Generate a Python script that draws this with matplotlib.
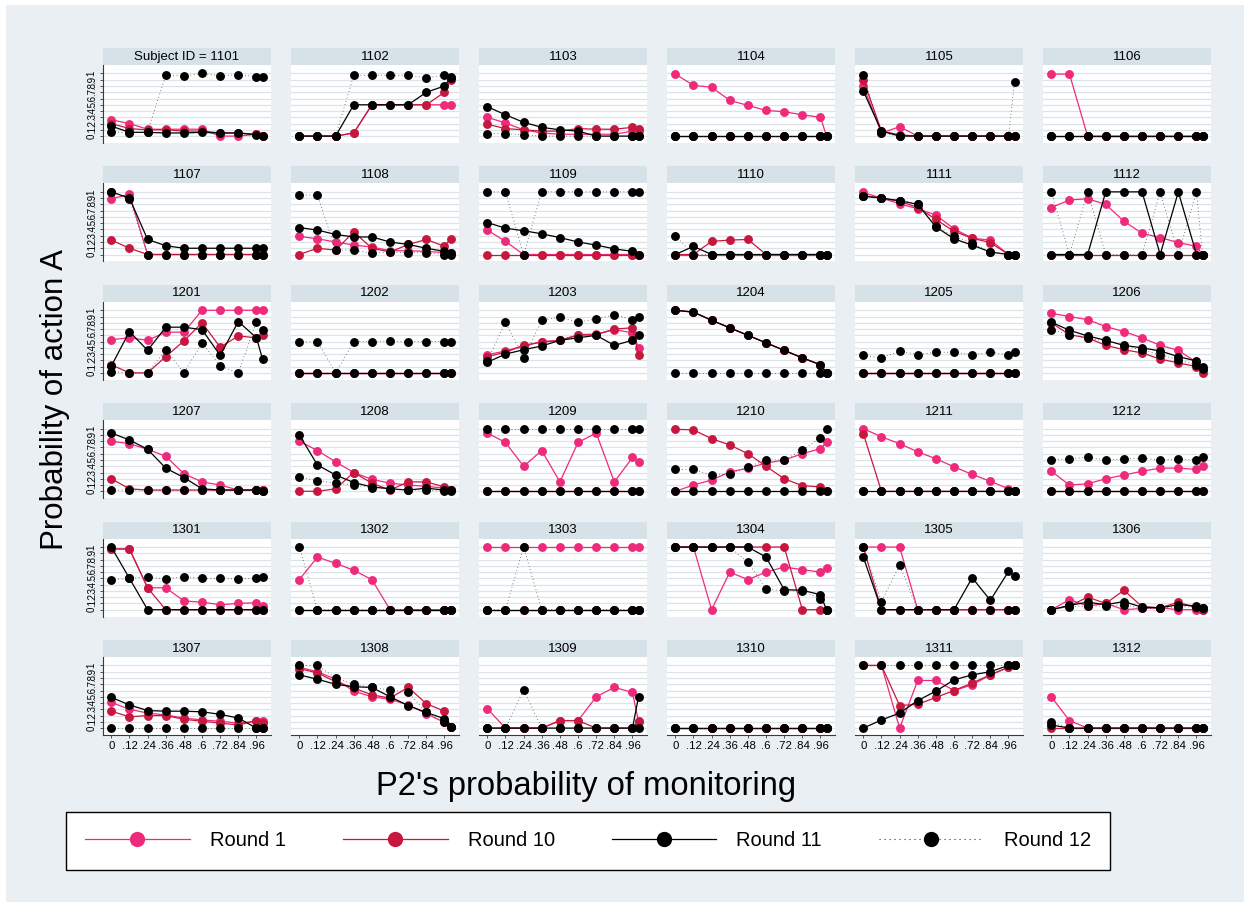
import matplotlib
matplotlib.use("Agg")
import numpy as np
import matplotlib.pyplot as plt
from matplotlib.lines import Line2D
from matplotlib.patches import Rectangle

plt.rcParams['font.family'] = ['Liberation Sans', 'DejaVu Sans']

# monitoring probabilities on the x axis
x = [0, .12, .24, .36, .48, .6, .72, .84, .96, 1.0]
xticks = [0, .12, .24, .36, .48, .6, .72, .84, .96]
xticklabels = ['0', '.12', '.24', '.36', '.48', '.6', '.72', '.84', '.96']
yticks = [0, .1, .2, .3, .4, .5, .6, .7, .8, .9, 1]
yticklabels = ['0', '.1', '.2', '.3', '.4', '.5', '.6', '.7', '.8', '.9', '1']

subjects = [1101, 1102, 1103, 1104, 1105, 1106, 1107, 1108, 1109, 1110, 1111, 1112,
            1201, 1202, 1203, 1204, 1205, 1206, 1207, 1208, 1209, 1210, 1211, 1212,
            1301, 1302, 1303, 1304, 1305, 1306, 1307, 1308, 1309, 1310, 1311, 1312]

Z = [0] * 10

round1 = {
    1101: [.26, .20, .11, .11, .11, .11, 0, 0, .03, 0],
    1102: [0, 0, 0, .05, .5, .5, .5, .5, .5, .5],
    1103: [.30, .21, .10, .05, .03, .03, .03, .03, .08, .08],
    1104: [.99, .81, .78, .57, .49, .41, .39, .34, .30, 0],
    1105: [.80, .05, .15, 0, 0, 0, 0, 0, 0, 0],
    1106: [.99, .99, 0, 0, 0, 0, 0, 0, 0, 0],
    1107: [.89, .96, 0, 0, 0, 0, 0, 0, 0, 0],
    1108: [.29, .25, .20, .15, .12, .06, .06, .05, .03, .02],
    1109: [.39, .21, 0, 0, 0, 0, 0, 0, 0, 0],
    1110: Z,
    1111: [.99, .90, .81, .73, .63, .41, .26, .23, 0, 0],
    1112: [.75, .87, .89, .80, .53, .34, .27, .19, .13, 0],
    1201: [.53, .56, .52, .65, .65, 1, 1, 1, 1, 1],
    1202: Z,
    1203: [.29, .35, .43, .50, .52, .61, .62, .69, .64, .40],
    1204: [1, .97, .84, .72, .60, .48, .36, .24, .13, 0],
    1205: Z,
    1206: [.95, .90, .85, .74, .66, .56, .44, .36, .17, .04],
    1207: [.80, .76, .67, .56, .28, .15, .10, .02, .02, .02],
    1208: [.80, .65, .47, .30, .19, .13, .10, .08, .05, .02],
    1209: [.93, .78, .40, .65, .15, .78, .93, .15, .54, .46],
    1210: [0, .10, .18, .31, .37, .45, .50, .60, .68, .78],
    1211: [1, .87, .76, .63, .52, .39, .27, .16, .04, 0],
    1212: [.32, .10, .12, .20, .26, .32, .37, .37, .35, .40],
    1301: [.97, .97, .35, .35, .14, .12, .08, .10, .11, .06],
    1302: [.48, .84, .74, .63, .48, 0, 0, 0, 0, 0],
    1303: [1, 1, 1, 1, 1, 1, 1, 1, 1, 1],
    1304: [1, 1, 0, .60, .48, .60, .68, .64, .60, .66],
    1305: [1, 1, 1, 0, 0, 0, 0, 0, 0, 0],
    1306: [0, .16, .06, .10, 0, .02, .03, 0, 0, 0],
    1307: [.41, .30, .24, .21, .16, .13, .11, .08, .11, .11],
    1308: [.97, .90, .78, .59, .50, .46, .37, .23, .09, .02],
    1309: [.31, 0, 0, 0, .12, .12, .50, .65, .57, .10],
    1310: Z,
    1311: [1, 1, 0, .76, .76, .60, .69, .85, .97, 1],
    1312: [.50, .12, 0, 0, 0, 0, 0, 0, 0, 0],
}

round10 = {
    1101: [.20, .12, .10, .10, .08, .08, .05, .05, .03, 0],
    1102: [0, 0, 0, .05, .5, .5, .5, .5, .70, .90],
    1103: [.19, .12, .10, .08, .08, .12, .11, .11, .14, .11],
    1104: Z,
    1105: [.90, .08, .02, 0, 0, 0, 0, 0, 0, 0],
    1106: Z,
    1107: [.23, .10, 0, 0, 0, 0, 0, 0, 0, 0],
    1108: [0, .10, .07, .36, .10, .04, .16, .24, .13, .25],
    1109: Z,
    1110: [0, 0, .21, .23, .24, 0, 0, 0, 0, 0],
    1111: [.94, .90, .85, .75, .56, .37, .26, .19, 0, 0],
    1112: Z,
    1201: [.13, 0, 0, .26, .51, .80, .41, .59, .56, .60],
    1202: Z,
    1203: [.26, .33, .44, .49, .52, .60, .61, .70, .72, .28],
    1204: [1, .97, .84, .72, .60, .48, .36, .24, .13, 0],
    1205: Z,
    1206: [.80, .61, .56, .44, .37, .32, .22, .16, .10, 0],
    1207: [.20, .04, .02, .02, .02, .02, .02, .02, .02, .02],
    1208: [0, 0, .04, .30, .13, .02, .15, .15, .07, .02],
    1209: Z,
    1210: [.99, .98, .84, .74, .60, .40, .20, .09, .07, 0],
    1211: [.92, 0, 0, 0, 0, 0, 0, 0, 0, 0],
    1212: Z,
    1301: [.97, .97, .35, 0, 0, 0, 0, 0, 0, 0],
    1302: Z,
    1303: Z,
    1304: [1, 1, 1, 1, 1, 1, 1, 0, 0, 0],
    1305: [1, 0, 0, 0, 0, 0, 0, 0, 0, 0],
    1306: [0, .06, .20, .10, .31, .05, .03, .12, .03, 0],
    1307: [.27, .18, .20, .20, .14, .11, .08, .05, .12, .08],
    1308: [.95, .88, .74, .64, .53, .48, .65, .39, .27, .02],
    1309: [0, 0, 0, 0, .12, .12, 0, 0, 0, .12],
    1310: Z,
    1311: [1, 1, .36, .38, .49, .60, .72, .85, .97, 1],
    1312: Z,
}

round11 = {
    1101: [.16, .06, .06, .05, .05, .06, .05, .05, .02, 0],
    1102: [0, 0, 0, .50, .50, .50, .50, .70, .80, .93],
    1103: [.47, .34, .22, .14, .10, .08, 0, 0, 0, 0],
    1104: Z,
    1105: [.72, .08, 0, 0, 0, 0, 0, 0, 0, 0],
    1106: Z,
    1107: [1, .90, .24, .14, .10, .10, .10, .10, .10, .10],
    1108: [.43, .39, .32, .28, .28, .20, .16, .10, .05, .02],
    1109: [.51, .42, .38, .33, .27, .20, .15, .09, .05, 0],
    1110: [0, .13, 0, 0, 0, 0, 0, 0, 0, 0],
    1111: [.93, .90, .86, .80, .44, .25, .15, .04, 0, 0],
    1112: [0, 0, 0, 1, 1, 1, 0, 1, 0, 0],
    1201: [.11, .66, .36, .73, .73, .69, .28, .82, .56, .22],
    1202: Z,
    1203: [.17, .30, .37, .43, .52, .56, .60, .44, .52, .60],
    1204: [1, .97, .84, .72, .60, .48, .36, .24, .13, 0],
    1205: Z,
    1206: [.81, .68, .59, .52, .44, .40, .35, .26, .19, .10],
    1207: [.93, .82, .67, .37, .22, .04, .02, .02, .02, 0],
    1208: [.90, .42, .26, .14, .07, .04, .02, .05, .02, .02],
    1209: Z,
    1210: Z,
    1211: Z,
    1212: Z,
    1301: [1, .50, 0, 0, 0, 0, 0, 0, 0, 0],
    1302: Z,
    1303: Z,
    1304: [1, 1, 1, 1, 1, .84, .32, .31, .24, 0],
    1305: [.84, 0, 0, 0, 0, 0, .51, .15, .61, .54],
    1306: [0, .07, .12, .08, .13, .04, .03, .08, .06, .02],
    1307: [.49, .37, .28, .27, .27, .26, .22, .16, 0, 0],
    1308: [.85, .78, .70, .66, .65, .50, .36, .25, .15, .02],
    1309: [0, 0, 0, 0, 0, 0, 0, 0, 0, .50],
    1310: Z,
    1311: [0, .13, .24, .44, .59, .77, .85, .90, 1, 1],
    1312: [.05, 0, 0, 0, 0, 0, 0, 0, 0, 0],
}

round12 = {
    1101: [.07, .05, .07, .97, .96, 1, .96, .98, .95, .95],
    1102: [0, 0, 0, .97, .97, .97, .97, .93, .97, .95],
    1103: [.04, .04, .02, 0, 0, 0, 0, 0, 0, 0],
    1104: Z,
    1105: [.98, .05, 0, 0, 0, 0, 0, 0, 0, .87],
    1106: Z,
    1107: [1, .88, 0, 0, 0, 0, 0, 0, 0, 0],
    1108: [.95, .95, .07, .07, .02, .04, .03, .03, 0, 0],
    1109: [1, 1, 0, 1, 1, 1, 1, 1, 1, 1],
    1110: [.30, 0, 0, 0, 0, 0, 0, 0, 0, 0],
    1111: [.94, .90, .86, .81, .45, .29, .18, .04, 0, 0],
    1112: [1, 0, 1, 0, 0, 0, 1, 0, 1, 0],
    1201: [.02, 0, 0, .37, 0, .48, .11, 0, .82, .69],
    1202: [.49, .50, 0, .50, .50, .51, .50, .50, .50, .49],
    1203: [.19, .81, .24, .84, .89, .81, .86, .93, .85, .89],
    1204: Z,
    1205: [.28, .24, .35, .29, .33, .33, .29, .33, .29, .33],
    1206: [.69, .61, .55, .51, .43, .37, .29, .21, .12, .06],
    1207: [.02, .02, .02, .02, .02, .02, .02, .02, .02, 0],
    1208: [.23, .17, .13, .10, .06, .04, .02, .02, 0, 0],
    1209: [1, 1, 1, 1, 1, 1, 1, 1, 1, 1],
    1210: [.35, .35, .26, .27, .39, .50, .50, .66, .85, 1],
    1211: Z,
    1212: [.50, .52, .54, .50, .52, .53, .50, .52, .50, .54],
    1301: [.48, .50, .52, .49, .53, .50, .50, .49, .50, .52],
    1302: [1, 0, 0, 0, 0, 0, 0, 0, 0, 0],
    1303: [0, 0, 1, 0, 0, 0, 0, 0, 0, 0],
    1304: [1, 1, 1, 1, .76, .33, .30, .30, .17, 0],
    1305: [1, .13, .71, 0, 0, 0, 0, 0, 0, 0],
    1306: [0, .05, .06, .06, .08, .02, .02, .05, .04, .02],
    1307: Z,
    1308: [1, 1, .80, .70, .65, .61, .57, .25, .09, .02],
    1309: [0, 0, .61, 0, 0, 0, 0, 0, 0, 0],
    1310: Z,
    1311: [1, 1, 1, 1, 1, 1, 1, 1, 1, 1],
    1312: [.10, 0, 0, 0, 0, 0, 0, 0, 0, 0],
}

PINK = '#EE2A7B'
CRIMSON = '#C8173F'
BG = '#E9EFF2'
STRIP = '#D7E2E8'
GRID = '#DDE4E8'
AXIS = '#3A3A3A'

series = [
    ('Round 1', round1, PINK, '-', 0.9),
    ('Round 10', round10, CRIMSON, '-', 0.9),
    ('Round 11', round11, 'black', '-', 0.9),
    ('Round 12', round12, '#333333', (0, (1, 3.5)), 0.55),
]

W, H = 1250, 907
fig = plt.figure(figsize=(W / 100, H / 100), dpi=100)
fig.patch.set_facecolor('white')
fig.patches.append(Rectangle((6 / W, 5 / H), (W - 12) / W, (H - 10) / H,
                             transform=fig.transFigure, facecolor=BG,
                             edgecolor='none', zorder=-10))


def box(left, top, w, h):
    return [left / W, 1 - (top + h) / H, w / W, h / H]


panel_w, panel_h, strip_h = 168, 78, 17

for i, sid in enumerate(subjects):
    r, c = divmod(i, 6)
    left = 103 + 188 * c
    top = 65 + 118.4 * r
    ax = fig.add_axes(box(left, top, panel_w, panel_h))
    ax.set_facecolor('white')
    ax.set_xlim(-0.055, 1.056)
    ax.set_ylim(-0.11, 1.135)

    ax.set_yticks(yticks)
    ax.yaxis.grid(True, color=GRID, lw=0.9)
    ax.set_axisbelow(True)
    ax.set_xticks(xticks)

    for s in ax.spines.values():
        s.set_visible(False)

    if c == 0:
        ax.spines['left'].set_visible(True)
        ax.spines['left'].set_color(AXIS)
        ax.spines['left'].set_linewidth(0.8)
        ax.set_yticklabels(yticklabels, rotation=90, va='center', fontsize=7)
        ax.tick_params(axis='y', length=2.5, width=0.6, color=AXIS, pad=2)
    else:
        ax.tick_params(axis='y', length=0, labelleft=False)

    if r == 5:
        ax.spines['bottom'].set_visible(True)
        ax.spines['bottom'].set_color(AXIS)
        ax.spines['bottom'].set_linewidth(0.8)
        ax.set_xticklabels(xticklabels, fontsize=8.2)
        ax.tick_params(axis='x', length=2.5, width=0.6, color=AXIS, pad=2)
    else:
        ax.tick_params(axis='x', length=0, labelbottom=False)

    # strip with the subject id on top of every panel
    ax.add_patch(Rectangle((0, 1), 1, strip_h / panel_h, transform=ax.transAxes,
                           facecolor=STRIP, edgecolor='none', clip_on=False))
    title = 'Subject ID = %d' % sid if i == 0 else str(sid)
    ax.text(0.5, 1 + strip_h / panel_h / 2, title, transform=ax.transAxes,
            ha='center', va='center', fontsize=9.5)

    for k, (name, data, col, ls, lw) in enumerate(series):
        mcol = 'black' if k >= 2 else col
        ax.plot(x, data[sid], color=col, ls=ls, lw=lw, marker='o', ms=6.4,
                mfc=mcol, mec=mcol, mew=0, zorder=3 + k, clip_on=False)

fig.text(55 / W, 1 - 400 / H, 'Probability of action A', rotation=90,
         ha='center', va='center', fontsize=22.5)
fig.text(586 / W, 1 - 795 / H, "P2's probability of monitoring",
         ha='center', va='baseline', fontsize=23.6)

handles = [Line2D([], [], color=col, ls=ls, lw=max(lw, 0.9) if k < 3 else 0.8,
                  marker='o', ms=11, mfc='black' if k >= 2 else col,
                  mec='black' if k >= 2 else col, mew=0)
           for k, (name, data, col, ls, lw) in enumerate(series)]
labels = [s[0] for s in series]
leg = fig.legend(handles, labels, loc='center',
                 bbox_to_anchor=(66 / W, 1 - 871 / H, 1044 / W, 60 / H),
                 mode='expand', ncol=4, handlelength=5.2, handletextpad=1.0,
                 fontsize=14.5, frameon=True, fancybox=False, framealpha=1,
                 edgecolor='black', borderaxespad=0, borderpad=0.95)
leg.get_frame().set_linewidth(1.0)

fig.savefig('out.png', dpi=100, facecolor=fig.get_facecolor())
